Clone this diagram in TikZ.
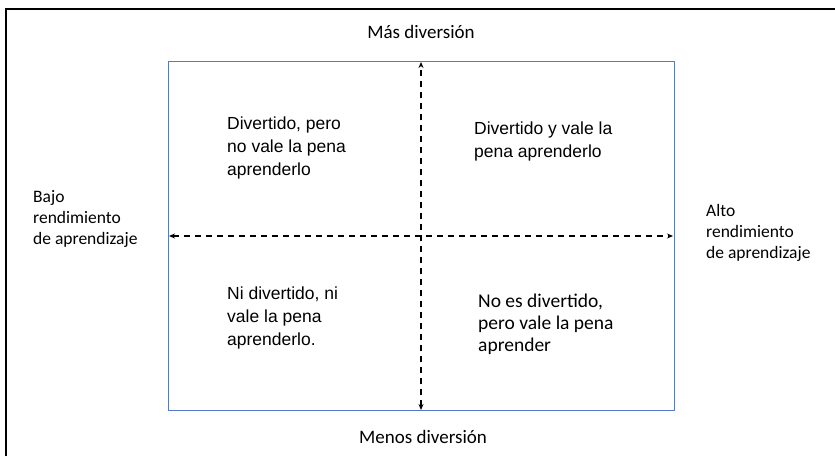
\documentclass[tikz,border=0pt]{standalone}
\usepackage{fontspec}
\setmainfont{Liberation Sans}
\newfontfamily\calib{Carlito}
\usetikzlibrary{arrows.meta}
\begin{document}
\begin{tikzpicture}[x=1pt,y=-1pt,
  quad/.style={align=left,anchor=north west,inner sep=0pt,font=\fontsize{17.5}{23}\selectfont},
  quadc/.style={align=left,anchor=north west,inner sep=0pt,font=\calib\fontsize{19.5}{22}\selectfont},
  lab/.style={inner sep=0pt,font=\calib\fontsize{17.5}{21}\selectfont},
  labbig/.style={inner sep=0pt,font=\calib\fontsize{19}{21}\selectfont},
  axis/.style={dashed,dash pattern=on 6pt off 5pt,line width=1.3pt,{Stealth[length=6pt,width=5pt]}-{Stealth[length=6pt,width=5pt]}}]
\useasboundingbox (0,0) rectangle (835,456);
\draw[line width=1.5pt] (6,456) -- (6,9) -- (835,9);
\node[draw={rgb,255:red,90;green,120;blue,200},line width=1pt,minimum width=506pt,minimum height=349pt,inner sep=0pt] (box) at (421,235.5) {};
\coordinate (top) at (421,62);
\coordinate (bot) at (421,410);
\coordinate (lft) at (169,236);
\coordinate (rgt) at (673,236);
\draw[axis] (bot) -- (top);
\draw[axis] (lft) -- (rgt);
\node[labbig] (mas) at (421,32) {Más diversión};
\node[labbig] (menos) at (423,437) {Menos diversión};
\node[lab,align=left,anchor=west] (bajo) at (33,219) {Bajo\\rendimiento\\de aprendizaje};
\node[lab,align=left,anchor=west] (alto) at (706,233) {Alto\\rendimiento\\de aprendizaje};
\node[quad] (tl) at (227,117) {Divertido, pero\\no vale la pena\\aprenderlo};
\node[quad] (tr) at (474,122) {Divertido y vale la\\pena aprenderlo};
\node[quad] (bl) at (227,287) {Ni divertido, ni\\vale la pena\\aprenderlo.};
\node[quadc] (br) at (478,294) {No es divertido,\\pero vale la pena\\aprender};
\end{tikzpicture}
\end{document}
